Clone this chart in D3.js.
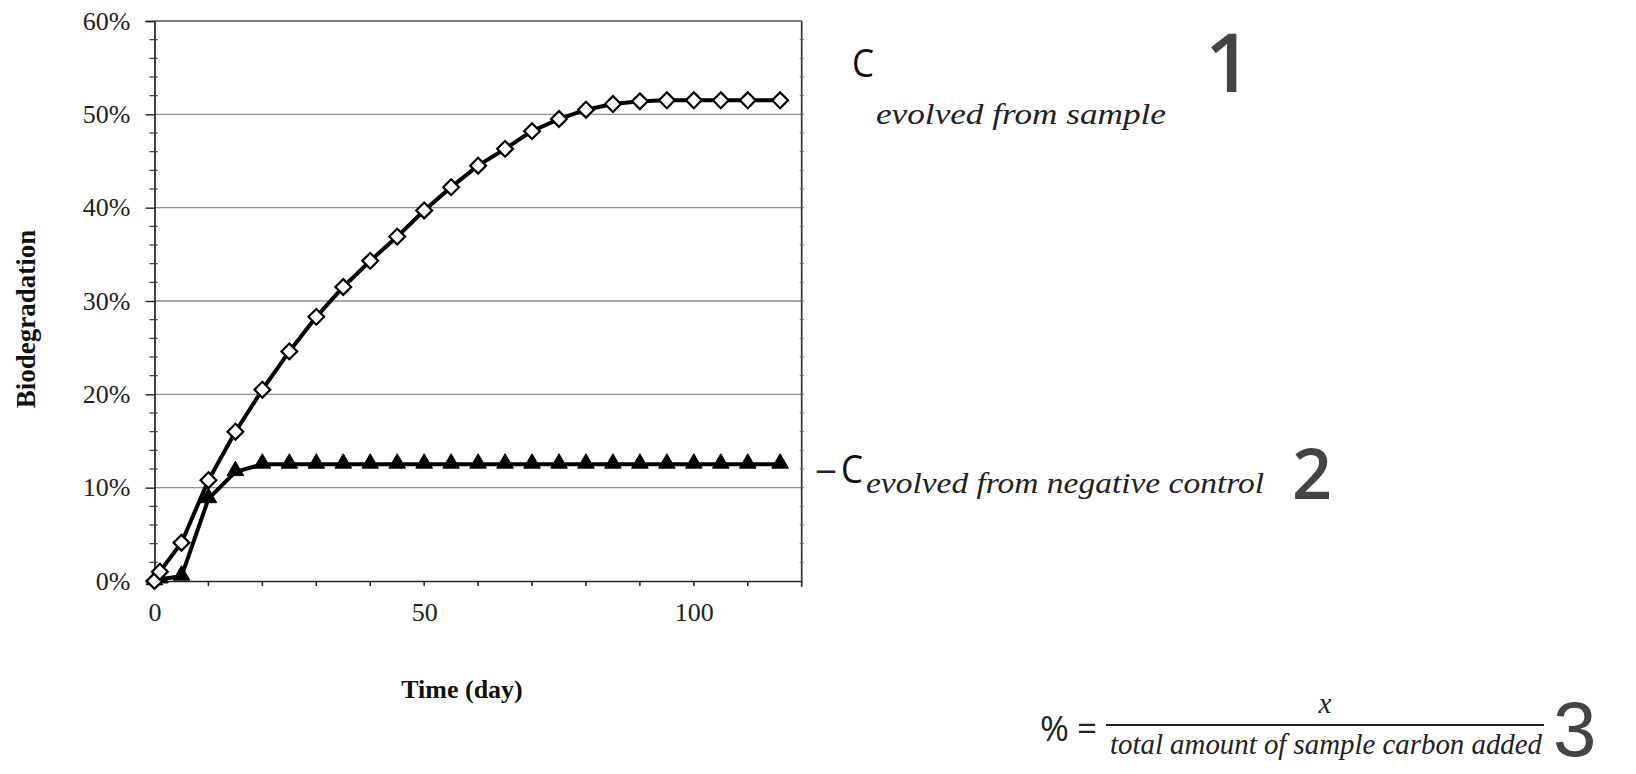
<!DOCTYPE html>
<html>
<head>
<meta charset="utf-8">
<script src="https://cdn.jsdelivr.net/npm/d3@7"></script>
<style>
  html, body { margin: 0; padding: 0; background: #fff; }
  svg { display: block; }
</style>
</head>
<body>
<svg id="chart" width="1636" height="774"></svg>
<script>
// ---- data ----
const days = [0, 1, 5, 10, 15, 20, 25, 30, 35, 40, 45, 50, 55, 60, 65, 70, 75, 80, 85, 90, 95, 100, 105, 110, 116];
const sampleValues = [0, 1.0, 4.1, 10.8, 16.0, 20.5, 24.6, 28.3, 31.5, 34.3, 36.9, 39.7, 42.2, 44.5, 46.3, 48.2, 49.5, 50.5, 51.1, 51.4, 51.5, 51.5, 51.5, 51.5, 51.5];
const controlValues = [0, 0.2, 0.5, 8.8, 11.7, 12.5, 12.5, 12.5, 12.5, 12.5, 12.5, 12.5, 12.5, 12.5, 12.5, 12.5, 12.5, 12.5, 12.5, 12.5, 12.5, 12.5, 12.5, 12.5, 12.5];
const xTickValues = [0, 50, 100];
const yTickValues = [0, 10, 20, 30, 40, 50, 60];
const yAxisTitle = "Biodegradation";
const xAxisTitle = "Time (day)";
const label1Base = "C", label1Sub = "evolved from sample", label1Num = "1";
const label2Minus = "\u2013", label2Base = "C", label2Sub = "evolved from negative control", label2Num = "2";
const eqPercent = "%", eqEquals = "=", eqNumerator = "x", eqDenominator = "total amount of sample carbon added", eqNum = "3";

// ---- layout ----
const svg = d3.select("#chart");
const L = 154.5, R = 801.7, T = 21, B = 581;
const x = d3.scaleLinear().domain([0, 120]).range([L, R]);
const y = d3.scaleLinear().domain([0, 60]).range([B, T]);
const serif = "'Liberation Serif', 'Times New Roman', serif";
const sans = "'Open Sans', 'DejaVu Sans', sans-serif";
const gothic = "'Liberation Sans', Arial, sans-serif";

// gridlines
svg.append("g").selectAll("line").data(yTickValues.filter(d => d > 0 && d < 60)).join("line")
  .attr("x1", L).attr("x2", R).attr("y1", d => y(d)).attr("y2", d => y(d))
  .attr("stroke", "#8f8f8f").attr("stroke-width", 1.4);

// frame top/right
svg.append("line").attr("x1", L).attr("x2", R).attr("y1", T).attr("y2", T).attr("stroke", "#555").attr("stroke-width", 1.6);
svg.append("line").attr("x1", R).attr("x2", R).attr("y1", T).attr("y2", B + 6).attr("stroke", "#333").attr("stroke-width", 1.7);
// right minor ticks
svg.append("g").selectAll("line").data(d3.range(2, 60, 2)).join("line")
  .attr("x1", R - 2).attr("x2", R + 2).attr("y1", d => y(d)).attr("y2", d => y(d))
  .attr("stroke", "#666").attr("stroke-width", 1);

// y axis
const yAxis = d3.axisLeft(y).tickValues(yTickValues).tickSize(9).tickPadding(15)
  .tickFormat(d => d + "%");
const gy = svg.append("g").attr("transform", `translate(${L},0)`).call(yAxis);
gy.select(".domain").attr("stroke", "#222").attr("stroke-width", 1.7);
gy.selectAll(".tick line").attr("stroke", "#222").attr("stroke-width", 1.4);
gy.selectAll(".tick text").attr("font-family", serif).attr("font-size", 26).attr("fill", "#222");
// y minor ticks
svg.append("g").selectAll("line").data(d3.range(0, 61, 2).filter(d => d % 10 !== 0)).join("line")
  .attr("x1", L - 5).attr("x2", L + 3).attr("y1", d => y(d)).attr("y2", d => y(d))
  .attr("stroke", "#333").attr("stroke-width", 1.2);

// x axis
const xAxis = d3.axisBottom(x).tickValues(xTickValues).tickSize(0).tickPadding(22)
  .tickFormat(d3.format("d"));
const gx = svg.append("g").attr("transform", `translate(0,${B})`).call(xAxis);
gx.select(".domain").attr("stroke", "#222").attr("stroke-width", 1.7);
gx.selectAll(".tick text").attr("font-family", serif).attr("font-size", 26).attr("fill", "#222");
svg.append("g").selectAll("line").data(d3.range(10, 120, 10)).join("line")
  .attr("x1", d => x(d)).attr("x2", d => x(d)).attr("y1", B).attr("y2", B + 5)
  .attr("stroke", "#222").attr("stroke-width", 1.5);

// axis titles
svg.append("text").attr("transform", `translate(35,${(T + B) / 2 + 18}) rotate(-90)`)
  .attr("text-anchor", "middle").attr("font-family", serif).attr("font-weight", "bold")
  .attr("font-size", 27).attr("fill", "#111").text(yAxisTitle);
svg.append("text").attr("x", 462).attr("y", 698).attr("text-anchor", "middle")
  .attr("font-family", serif).attr("font-weight", "bold").attr("font-size", 26).attr("fill", "#111")
  .text(xAxisTitle);

// series
const sample = days.map((d, i) => ({ d, v: sampleValues[i] }));
const control = days.map((d, i) => ({ d, v: controlValues[i] }));
const line = d3.line().x(p => x(p.d)).y(p => y(p.v));
svg.append("path").datum(control).attr("d", line).attr("fill", "none").attr("stroke", "#000").attr("stroke-width", 4);
svg.append("path").datum(sample).attr("d", line).attr("fill", "none").attr("stroke", "#000").attr("stroke-width", 4);
svg.append("g").selectAll("path").data(control).join("path")
  .attr("d", d3.symbol(d3.symbolTriangle, 120))
  .attr("transform", p => `translate(${x(p.d)},${y(p.v) - 1})`)
  .attr("fill", "#000").attr("stroke", "#000").attr("stroke-width", 1);
svg.append("g").selectAll("path").data(sample).join("path")
  .attr("d", d3.symbol(d3.symbolSquare, 125))
  .attr("transform", p => `translate(${x(p.d)},${y(p.v)}) rotate(45)`)
  .attr("fill", "#fff").attr("stroke", "#000").attr("stroke-width", 2.2);

// right-side annotations
svg.append("text").attr("x", 852).attr("y", 77).attr("font-family", sans).attr("font-size", 38)
  .attr("textLength", 22).attr("lengthAdjust", "spacingAndGlyphs").attr("fill", "#111").text(label1Base);
svg.append("text").attr("x", 876).attr("y", 124).attr("font-family", serif).attr("font-style", "italic")
  .attr("font-size", 29).attr("fill", "#222").attr("textLength", 290).attr("lengthAdjust", "spacingAndGlyphs").text(label1Sub);
svg.append("text").attr("x", 1205).attr("y", 92).attr("font-family", sans).attr("font-weight", 600)
  .attr("font-size", 82).attr("fill", "#444").text(label1Num);

svg.append("text").attr("x", 815).attr("y", 481).attr("font-family", sans).attr("font-size", 34)
  .attr("textLength", 22).attr("lengthAdjust", "spacingAndGlyphs").attr("fill", "#222").text(label2Minus);
svg.append("text").attr("x", 841).attr("y", 483).attr("font-family", sans).attr("font-size", 38)
  .attr("textLength", 22).attr("lengthAdjust", "spacingAndGlyphs").attr("fill", "#111").text(label2Base);
svg.append("text").attr("x", 866).attr("y", 493).attr("font-family", serif).attr("font-style", "italic")
  .attr("font-size", 29).attr("fill", "#222").attr("textLength", 398).attr("lengthAdjust", "spacingAndGlyphs").text(label2Sub);
svg.append("text").attr("x", 1292).attr("y", 499).attr("font-family", sans).attr("font-weight", 600)
  .attr("font-size", 70).attr("fill", "#444").text(label2Num);

svg.append("text").attr("x", 1040).attr("y", 741).attr("font-family", sans).attr("font-size", 35).attr("fill", "#222").text(eqPercent);
svg.append("text").attr("x", 1077).attr("y", 741).attr("font-family", sans).attr("font-size", 35).attr("fill", "#222").text(eqEquals);
svg.append("line").attr("x1", 1106).attr("x2", 1544).attr("y1", 725).attr("y2", 725).attr("stroke", "#222").attr("stroke-width", 2.2);
svg.append("text").attr("x", 1325).attr("y", 713).attr("text-anchor", "middle").attr("font-family", serif).attr("font-style", "italic")
  .attr("font-size", 29).attr("fill", "#222").text(eqNumerator);
svg.append("text").attr("x", 1110).attr("y", 754).attr("font-family", serif).attr("font-style", "italic")
  .attr("font-size", 29).attr("fill", "#222").attr("textLength", 432).attr("lengthAdjust", "spacingAndGlyphs").text(eqDenominator);
svg.append("text").attr("x", 1553).attr("y", 756).attr("font-family", gothic)
  .attr("font-size", 78).attr("fill", "#444").text(eqNum);
</script>
</body>
</html>
